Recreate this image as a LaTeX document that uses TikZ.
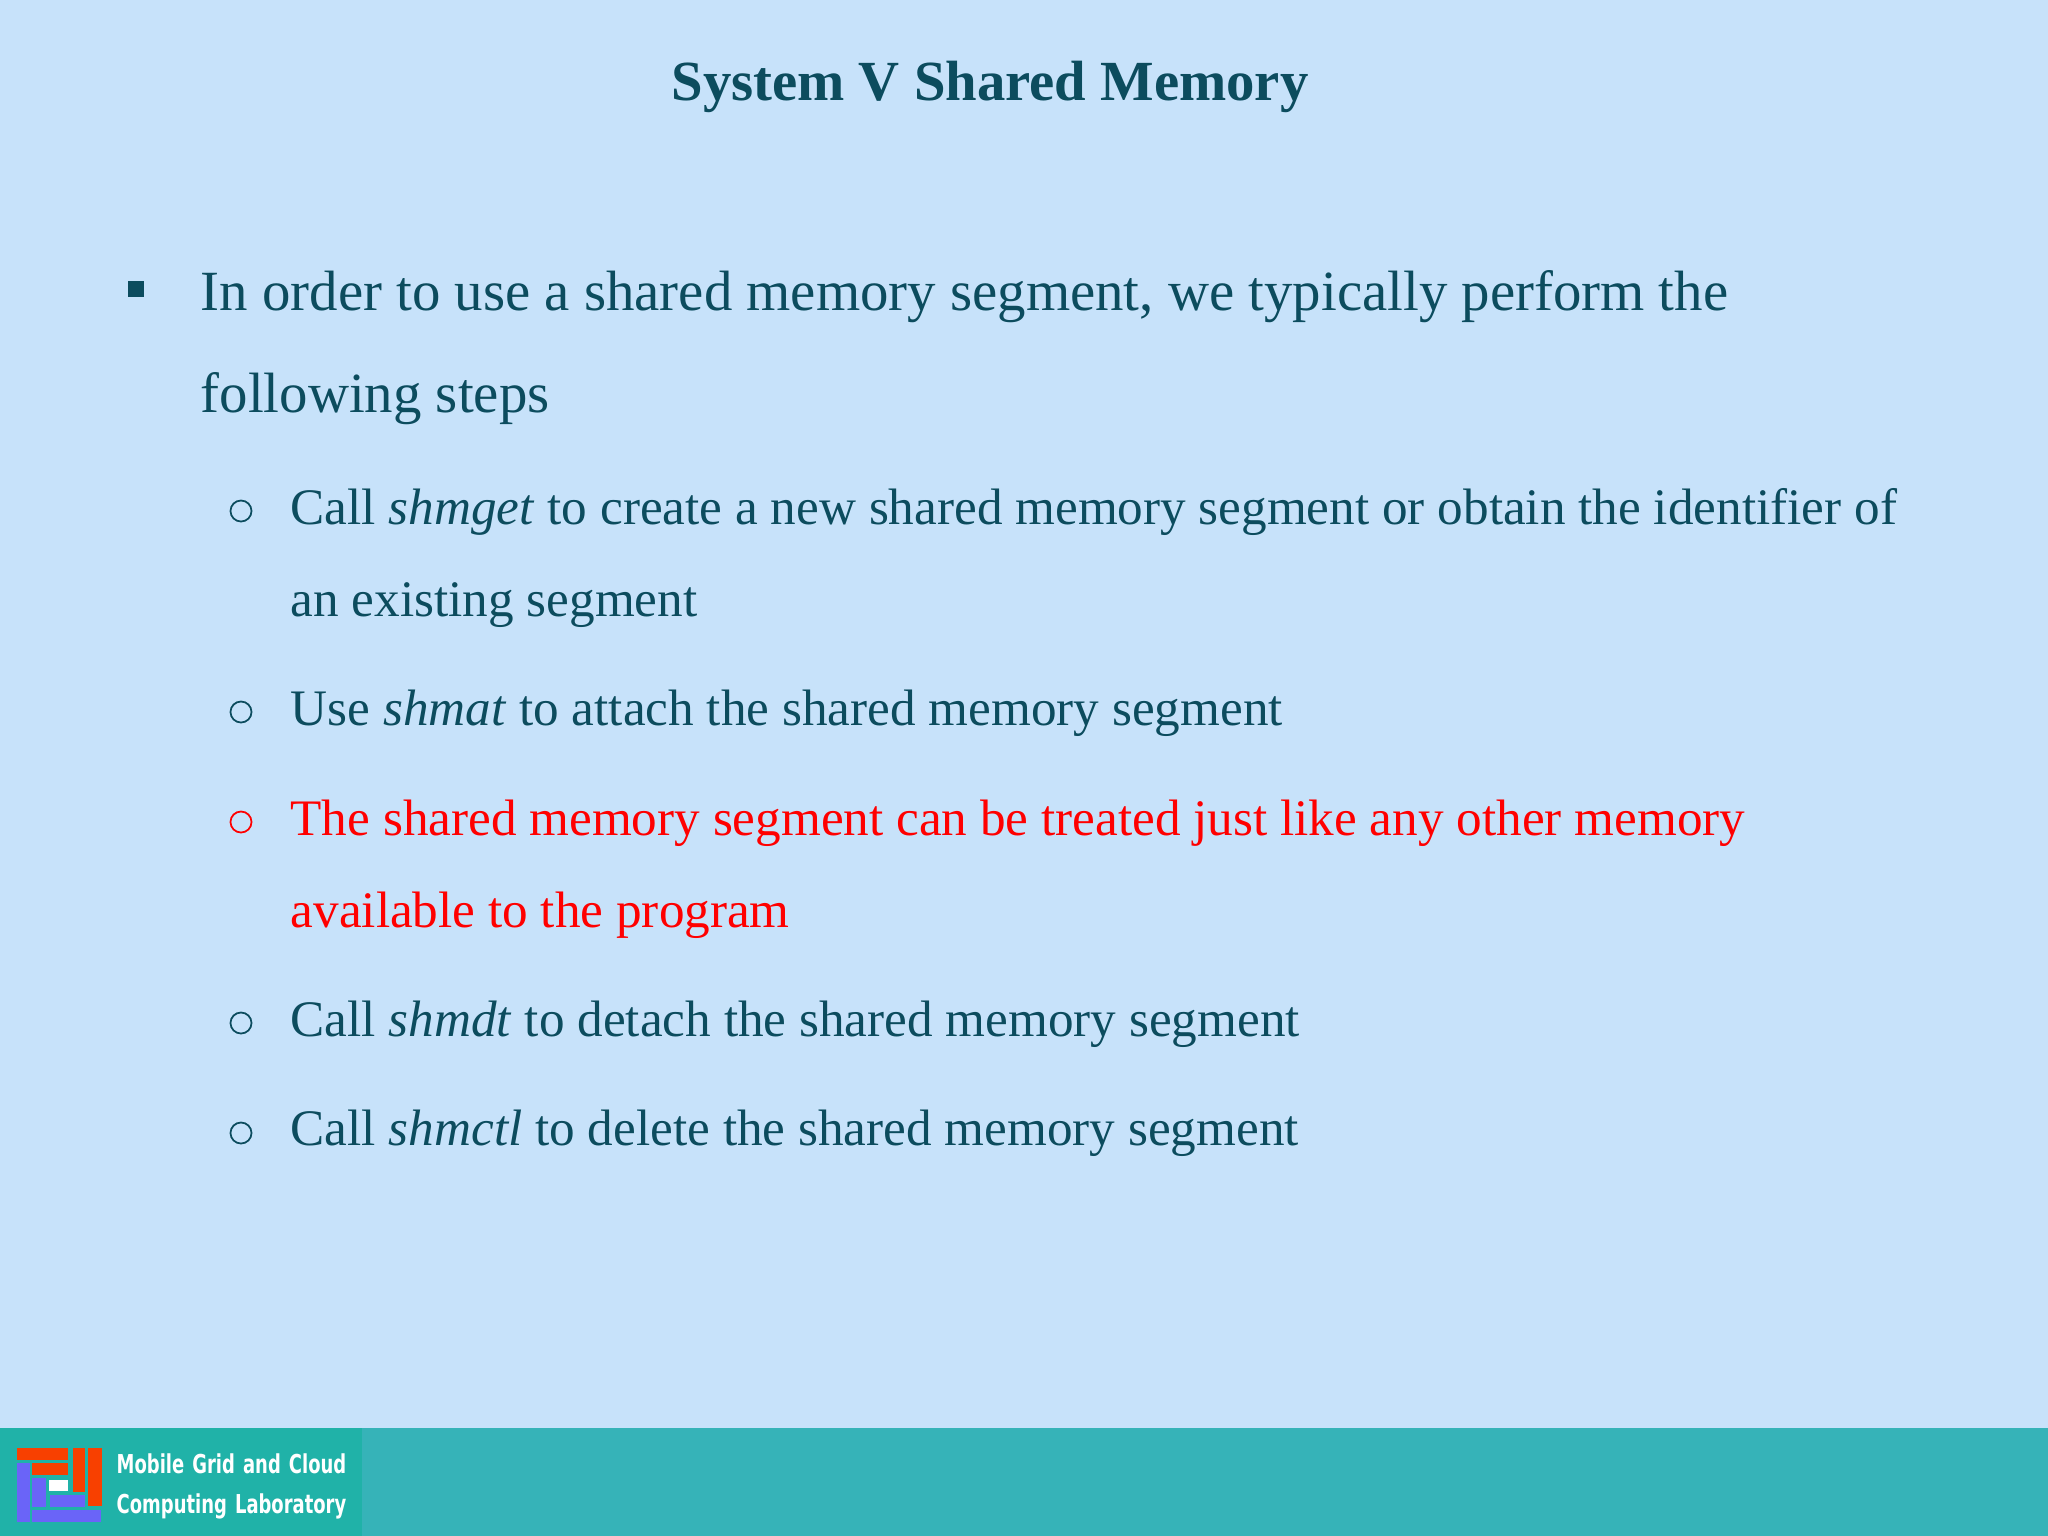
\documentclass[tikz,border=0pt]{standalone}
\usepackage{fontspec}
\setmainfont{Liberation Serif}
\newfontfamily\logofont{DejaVu Sans}[FakeStretch=0.69,WordSpace=1.3]
\definecolor{slidebg}{HTML}{C7E2FA}
\definecolor{slideink}{HTML}{0C4C5E}
\definecolor{bandteal}{HTML}{36B3B8}
\definecolor{logoteal}{HTML}{20B2A8}
\definecolor{logored}{HTML}{F84000}
\definecolor{logoblue}{HTML}{6A64F8}
\tikzset{
	x=0.01cm,y=-0.01cm,
	mainline/.style={anchor=base west,inner sep=0pt,text=slideink,font=\fontsize{16.16pt}{18pt}\selectfont},
	subline/.style={anchor=base west,inner sep=0pt,text=slideink,font=\fontsize{14.56pt}{17pt}\selectfont},
	redline/.style={subline,text=red},
	ringmark/.style={circle,draw=slideink,line width=0.5pt,minimum size=0.21cm,inner sep=0pt},
	logotext/.style={anchor=base west,inner sep=0pt,text=white,font=\logofont\bfseries\fontsize{7.4pt}{8pt}\selectfont}
}
\begin{document}
\begin{tikzpicture}
	\useasboundingbox (0,0) rectangle (2048,1536);
	\fill[slidebg] (0,0) rectangle (2048,1536);
	\fill[bandteal] (0,1428) rectangle (2048,1536);
	\fill[logoteal] (0,1428) rectangle (362,1536);
	% logo
	\fill[logored] (17,1448) rectangle (68,1460);
	\fill[logored] (32,1463) rectangle (68,1475);
	\fill[logored] (73,1448) rectangle (85,1492);
	\fill[logored] (88,1448) rectangle (102,1506);
	\fill[logoblue] (17,1463) rectangle (30,1522);
	\fill[logoblue] (32,1478) rectangle (46,1507);
	\fill[logoblue] (50,1495) rectangle (85,1507);
	\fill[logoblue] (32,1510) rectangle (101,1522);
	\fill[white] (49,1480) rectangle (68,1491);
	\node[logotext] (labname) at (116,1473) {Mobile Grid and Cloud};
	\node[logotext] (labname2) at (116,1513) {Computing Laboratory};
	% title
	\node[anchor=base,inner sep=0pt,text=slideink,font=\fontsize{16.13pt}{18pt}\selectfont\bfseries] (title) at (990,100) {System V Shared Memory};
	% main bullet
	\node[fill=slideink,minimum size=0.16cm,inner sep=0pt] (mainmark) at (136,289) {};
	\node[mainline] (intro) at (200,310) {In order to use a shared memory segment, we typically perform the};
	\node[mainline] (intro2) at (200,412) {following steps};
	% sub bullets
	\node[ringmark] (markget) at (241,511) {};
	\node[subline] (shmget) at (290,524) {Call \textit{shmget} to create a new shared memory segment or obtain the identifier of};
	\node[subline] (shmget2) at (290,616) {an existing segment};
	\node[ringmark] (markat) at (241,712) {};
	\node[subline] (shmat) at (290,725) {Use \textit{shmat} to attach the shared memory segment};
	\node[ringmark,draw=red] (markuse) at (241,822) {};
	\node[redline] (treat) at (290,835) {The shared memory segment can be treated just like any other memory};
	\node[redline] (treat2) at (290,927) {available to the program};
	\node[ringmark] (markdt) at (241,1023) {};
	\node[subline] (shmdt) at (290,1036) {Call \textit{shmdt} to detach the shared memory segment};
	\node[ringmark] (markctl) at (241,1133) {};
	\node[subline] (shmctl) at (290,1145) {Call \textit{shmctl} to delete the shared memory segment};
\end{tikzpicture}
\end{document}
